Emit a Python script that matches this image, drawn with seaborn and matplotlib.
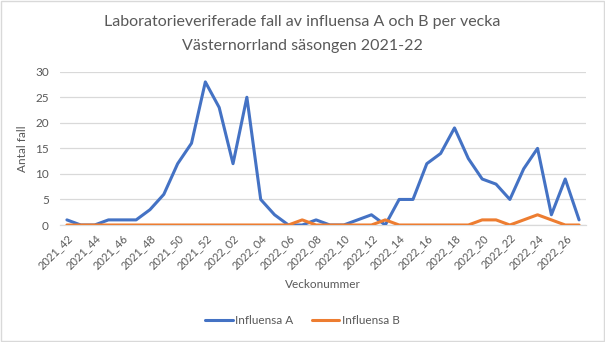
import matplotlib
matplotlib.use("Agg")
import matplotlib.pyplot as plt
import seaborn as sns
import pandas as pd
from matplotlib.patches import Rectangle

weeks = [f"2021_{w}" for w in range(42, 53)] + [f"2022_{w:02d}" for w in range(1, 28)]
influensa_a = [1, 0, 0, 1, 1, 1, 3, 6, 12, 16, 28,
               23, 12, 25, 5, 2, 0, 0, 1, 0, 0, 1, 2, 0, 5, 5, 12, 14, 19,
               13, 9, 8, 5, 11, 15, 2, 9, 1]
influensa_b = [0, 0, 0, 0, 0, 0, 0, 0, 0, 0, 0,
               0, 0, 0, 0, 0, 0, 1, 0, 0, 0, 0, 0, 1, 0, 0, 0, 0, 0,
               0, 1, 1, 0, 1, 2, 1, 0, 0]
series_names = ["Influensa A", "Influensa B"]
colors = ["#4472C4", "#ED7D31"]

df = pd.DataFrame({"vecka": weeks, series_names[0]: influensa_a, series_names[1]: influensa_b})
df["pos"] = range(len(weeks))
long = df.melt(id_vars=["vecka", "pos"], value_vars=series_names,
               var_name="serie", value_name="antal")

sns.set_theme(style="white")
plt.rcParams["font.family"] = ["Lato", "DejaVu Sans"]
text_color = "#595959"

fig = plt.figure(figsize=(6.05, 3.42), dpi=100)
ax = fig.add_axes([60 / 605, 1 - 225 / 342, 526 / 605, 153.3 / 342])

sns.lineplot(data=long, x="pos", y="antal", hue="serie", palette=colors,
             linewidth=2.2, ax=ax, legend=False, zorder=3)

ax.set_xlim(-0.5, len(weeks) - 0.5)
ax.set_ylim(0, 30)
ax.set_yticks(range(0, 31, 5))
ax.yaxis.grid(True, color="#d9d9d9", linewidth=0.9)
ax.set_axisbelow(True)
for s in ["top", "right", "left"]:
    ax.spines[s].set_visible(False)
ax.spines["bottom"].set_color("#d9d9d9")
ax.spines["bottom"].set_linewidth(0.9)

tick_pos = list(range(0, len(weeks), 2))
ax.set_xticks(tick_pos)
ax.set_xticklabels([weeks[i] for i in tick_pos], rotation=45, ha="right",
                   rotation_mode="anchor", fontsize=8, color=text_color)
ax.tick_params(axis="x", length=0, pad=5)
ax.tick_params(axis="y", length=0, pad=8, labelsize=8.5, labelcolor=text_color)

ax.set_xlabel("Veckonummer", fontsize=8.5, color=text_color, labelpad=6)
ax.set_ylabel("Antal fall", fontsize=8.5, color=text_color, labelpad=5)

fig.text(0.5, 1 - 22 / 342, "Laboratorieveriferade fall av influensa A och B per vecka",
         ha="center", va="center", fontsize=11.5, color=text_color)
fig.text(0.5, 1 - 46 / 342, "Västernorrland säsongen 2021-22",
         ha="center", va="center", fontsize=11.5, color=text_color)

handles = [plt.Line2D([0], [0], color=c, linewidth=2.2) for c in colors]
fig.legend(handles, series_names, loc="center", bbox_to_anchor=(0.5, 1 - 321 / 342),
           ncol=2, frameon=False, fontsize=8.5, labelcolor=text_color,
           handlelength=2.3, handletextpad=0.2, columnspacing=1.6)

fig.patches.append(Rectangle((0.002, 0.003), 0.996, 0.994, transform=fig.transFigure,
                             fill=False, edgecolor="#d9d9d9", linewidth=1.0))

fig.savefig("out.png", dpi=100, facecolor="white")
